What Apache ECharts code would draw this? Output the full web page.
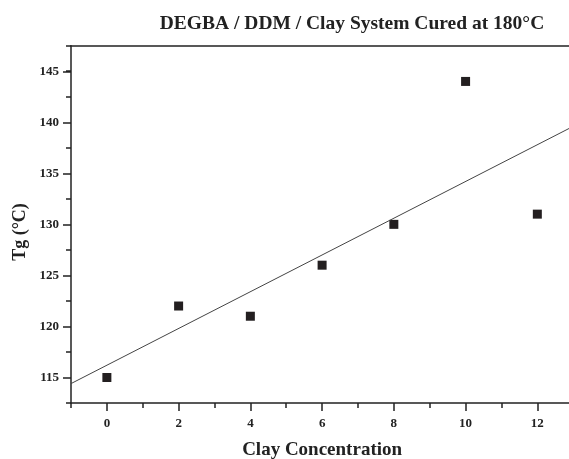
<!DOCTYPE html>
<html>
<head>
<meta charset="utf-8">
<script src="https://cdn.jsdelivr.net/npm/echarts@6/dist/echarts.min.js"></script>
<style>html,body{margin:0;padding:0;background:#fff;}#c{width:569px;height:459px;}</style>
</head>
<body>
<div id="c"></div>
<script>
const clayConc = [0, 2, 4, 6, 8, 10, 12];
const tgValues = [115, 122, 121, 126, 130, 144, 131];
const fitLine = [[-1, 114.4], [13, 139.6]];
const xTicks = [0, 2, 4, 6, 8, 10, 12];
const yTicks = [115, 120, 125, 130, 135, 140, 145];

const FONT = '"Liberation Serif", "Times New Roman", serif';
const chart = echarts.init(document.getElementById('c'), null, {renderer: 'canvas'});
const axisCol = '#222';

chart.setOption({
  animation: false,
  backgroundColor: '#fff',
  title: {
    text: 'DEGBA / DDM / Clay System Cured at 180°C',
    left: 347, top: 9, textAlign: 'center',
    textStyle: {fontFamily: FONT, fontWeight: 'bold', fontSize: 19.5, color: '#222'}
  },
  graphic: [{
    type: 'text', x: 20, y: 232, rotation: Math.PI / 2,
    style: {text: 'Tg (°C)', fontFamily: FONT, fontWeight: 'bold', fontSize: 18, fill: '#222',
            textAlign: 'center', textVerticalAlign: 'middle'}
  }],
  grid: [
    {left: 71, right: -4.2, top: 45.7, bottom: 56, outerBoundsMode: 'none', containLabel: false},
    {left: 107, right: 31.7, top: 71.7, bottom: 81, outerBoundsMode: 'none', containLabel: false}
  ],
  xAxis: [
    {gridIndex: 0, type: 'value', min: -1, max: 13, interval: 1, position: 'bottom',
     axisLine: {show: true, onZero: false, lineStyle: {color: axisCol, width: 1.5}},
     axisTick: {show: true, inside: false, length: 5, lineStyle: {color: axisCol, width: 1.5}},
     axisLabel: {show: false}, splitLine: {show: false},
     name: 'Clay Concentration', nameLocation: 'middle', nameGap: 38,
     nameTextStyle: {fontFamily: FONT, fontWeight: 'bold', fontSize: 19, color: '#222'}},
    {gridIndex: 0, type: 'value', min: -1, max: 13, position: 'top',
     axisLine: {show: true, onZero: false, lineStyle: {color: axisCol, width: 1.5}},
     axisTick: {show: false}, axisLabel: {show: false}, splitLine: {show: false}},
    {gridIndex: 1, type: 'value', min: xTicks[0], max: xTicks[xTicks.length - 1], interval: 2,
     position: 'bottom', offset: 25,
     axisLine: {show: false, onZero: false},
     axisTick: {show: true, length: 8, lineStyle: {color: axisCol, width: 1.5}},
     axisLabel: {show: true, margin: 14, fontFamily: FONT, fontWeight: 'bold', fontSize: 13, color: '#222'},
     splitLine: {show: false}}
  ],
  yAxis: [
    {gridIndex: 0, type: 'value', min: 112.5, max: 147.5, interval: 2.5, position: 'left',
     axisLine: {show: true, onZero: false, lineStyle: {color: axisCol, width: 1.5}},
     axisTick: {show: true, length: 5, lineStyle: {color: axisCol, width: 1.5}},
     axisLabel: {show: false}, splitLine: {show: false}},
    {gridIndex: 1, type: 'value', min: yTicks[0], max: yTicks[yTicks.length - 1], interval: 5,
     position: 'left', offset: 36,
     axisLine: {show: false, onZero: false},
     axisTick: {show: true, length: 8, lineStyle: {color: axisCol, width: 1.5}},
     axisLabel: {show: true, margin: 12, fontFamily: FONT, fontWeight: 'bold', fontSize: 13, color: '#222'},
     splitLine: {show: false}}
  ],
  series: [
    {type: 'line', xAxisIndex: 0, yAxisIndex: 0, data: fitLine, showSymbol: false, symbol: 'none',
     lineStyle: {color: '#444', width: 1}, silent: true},
    {type: 'scatter', xAxisIndex: 0, yAxisIndex: 0, symbol: 'rect', symbolSize: 9,
     itemStyle: {color: '#231f20', opacity: 1},
     data: clayConc.map((x, i) => [x, tgValues[i]])}
  ]
});
</script>
</body>
</html>
